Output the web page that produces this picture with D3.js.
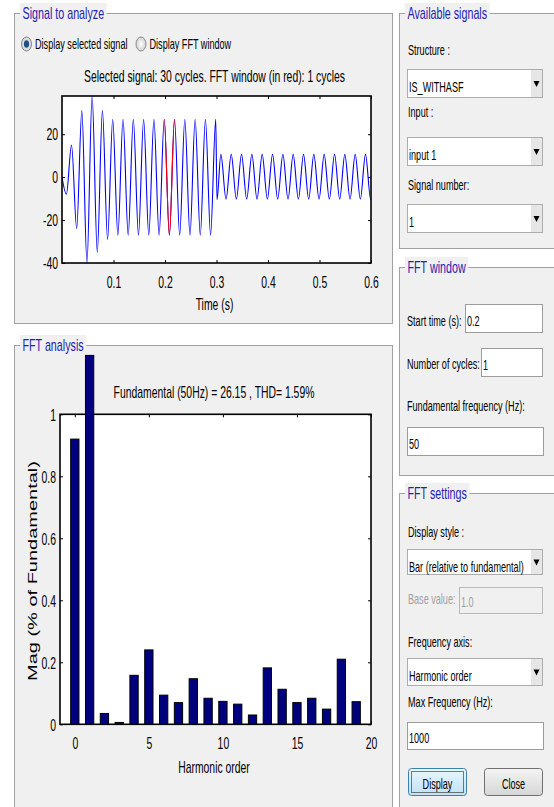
<!DOCTYPE html>
<html><head><meta charset="utf-8">
<script src="https://cdn.jsdelivr.net/npm/d3@7"></script>
<style>
body{margin:0;background:#fff;overflow:hidden}
text{font-family:"Liberation Sans",Arial,Helvetica,sans-serif}
</style>
</head><body>
<svg id="c" width="554" height="807"></svg>
<script>
// ---------------- DATA ----------------
// extrema of the analysed signal (time in s, value)
const waveTime = [0, 0.0085, 0.0185, 0.0285, 0.0385, 0.0485, 0.0585, 0.0685, 0.0785, 0.0885,
  0.0985, 0.1085, 0.1185, 0.1285, 0.1385, 0.1485, 0.1585, 0.1685, 0.1785, 0.1885,
  0.1985, 0.2085, 0.2185, 0.2285, 0.2385, 0.2485, 0.2585, 0.2685, 0.2785, 0.2885,
  0.2985, 0.3010,
  0.3085, 0.3185, 0.3286, 0.3386, 0.3486, 0.3586, 0.3687, 0.3787, 0.3887, 0.3988,
  0.4088, 0.4188, 0.4289, 0.4389, 0.4489, 0.4590, 0.4690, 0.4790, 0.4890, 0.4991,
  0.5091, 0.5191, 0.5292, 0.5392, 0.5492, 0.5593, 0.5693, 0.5793, 0.5893, 0.5993, 0.6000];
const waveValue = [0, -8, 15, -24, 31, -40, 37.8, -35, 31, -29,
  27, -27, 27, -27, 27, -27, 27, -27, 27, -27,
  27, -27, 27, -27, 27, -27, 27, -27, 27, -27,
  27, -10.5,
  10.6, -10.3, 10.6, -10.3, 10.6, -10.3, 10.6, -10.3, 10.6, -10.3,
  10.6, -10.3, 10.6, -10.3, 10.6, -10.3, 10.6, -10.3, 10.6, -10.3,
  10.6, -10.3, 10.6, -10.3, 10.6, -10.3, 10.6, -10.3, 10.6, -10.3, -10.2];
const signalCycles = 30;
const fftStartTime = 0.2;
const fftCycles = 1;
const fundamentalHz = 50;
const fundamentalMag = 26.15;
const thdPercent = 1.59;
const harmonicOrder = [0,1,2,3,4,5,6,7,8,9,10,11,12,13,14,15,16,17,18,19];
const harmonicMag = [0.92, 1.19, 0.035, 0.006, 0.158, 0.24, 0.094, 0.07, 0.147, 0.084,
  0.074, 0.065, 0.03, 0.182, 0.113, 0.07, 0.084, 0.049, 0.21, 0.073];
const timeTicks = [0.1, 0.2, 0.3, 0.4, 0.5, 0.6];
const signalTicks = [-40, -20, 0, 20];
const harmonicTicks = [0, 5, 10, 15, 20];
const magTicks = [0, 0.2, 0.4, 0.6, 0.8, 1];

// ---------------- DRAWING ----------------
const SX = 0.65;
const svg = d3.select('#c');
svg.append('rect').attr('width',554).attr('height',807).attr('fill','#fff');

function txt(g, x, y, s, o = {}) {
  const t = g.append('text')
    .attr('transform', `translate(${x},${y}) scale(${o.sx ?? SX},1)`)
    .attr('font-size', o.size ?? 14)
    .attr('fill', o.color ?? '#000')
    .attr('text-anchor', o.anchor ?? 'start')
    .text(s);
  return t;
}

function panel(x, y, w, h, title) {
  svg.append('rect').attr('x', x + 0.5).attr('y', y + 0.5).attr('width', w).attr('height', h)
    .attr('fill', '#f0f0f0').attr('stroke', '#a0a0a0');
  const bg = svg.append('rect').attr('fill', '#f0f0f0');
  const t = txt(svg, x + 8.5, y + 6, title, {size: 16, sx: 0.67, color: '#2323b0'});
  const bw = t.node().getBBox().width * 0.67;
  bg.attr('x', x + 6).attr('y', y - 10).attr('width', bw + 5).attr('height', 21);
}

function dropdown(x, y, w, h, label) {
  svg.append('rect').attr('x', x + 0.5).attr('y', y + 0.5).attr('width', w).attr('height', h)
    .attr('fill', '#fff').attr('stroke', '#acacac');
  svg.append('rect').attr('x', x + w - 11).attr('y', y + 1).attr('width', 11).attr('height', h - 1)
    .attr('fill', '#e6e6e6');
  const cx = x + w - 5.5, cy = y + h / 2 + 1;
  svg.append('path').attr('d', `M${cx - 3},${cy - 3}L${cx + 3},${cy - 3}L${cx},${cy + 3}Z`).attr('fill', '#000');
  txt(svg, x + 2, y + 23, label);
}

function inputBox(x, y, w, h, label, disabled) {
  svg.append('rect').attr('x', x + 0.5).attr('y', y + 0.5).attr('width', w).attr('height', h)
    .attr('fill', disabled ? '#f0f0f0' : '#fff').attr('stroke', disabled ? '#b8b8b8' : '#9c9c9c');
  txt(svg, x + 2, y + h - 6, label, {color: disabled ? '#a0a0a0' : '#000'});
}

// ---- panels ----
panel(14, 13, 378, 310, 'Signal to analyze');
panel(14, 345, 378, 480, 'FFT analysis');
panel(399, 13, 175, 235, 'Available signals');
panel(399, 267, 175, 208, 'FFT window');
panel(399, 493, 175, 330, 'FFT settings');

// ---- radio buttons ----
const defs = svg.append('defs');
const rg = defs.append('radialGradient').attr('id', 'rad');
rg.append('stop').attr('offset', '0%').attr('stop-color', '#ffffff');
rg.append('stop').attr('offset', '100%').attr('stop-color', '#d0d0d0');
[[26.5, true, 'Display selected signal'], [141, false, 'Display FFT window']].forEach(([cx, sel, lab]) => {
  svg.append('ellipse').attr('cx', cx).attr('cy', 44).attr('rx', 5).attr('ry', 7)
    .attr('fill', 'url(#rad)').attr('stroke', '#8a8a8a');
  if (sel) svg.append('ellipse').attr('cx', cx).attr('cy', 44).attr('rx', 2.6).attr('ry', 3.8).attr('fill', '#1b4f8a');
  txt(svg, cx + 8.5, 49, lab);
});

// ---- signal plot ----
const x1 = d3.scaleLinear().domain([0, 0.6]).range([62, 371]);
const y1 = d3.scaleLinear().domain([-40, 37.8]).range([263, 96]);
txt(svg, 214.5, 81.5,
  `Selected signal: ${signalCycles} cycles. FFT window (in red): ${fftCycles} cycles`,
  {size: 16, anchor: 'middle'});
svg.append('rect').attr('x', x1.range()[0]).attr('y', y1.range()[1])
  .attr('width', x1.range()[1] - x1.range()[0]).attr('height', y1.range()[0] - y1.range()[1]).attr('fill', '#fff');

const wave = waveTime.map((t, i) => ({t, v: waveValue[i]}));
const line1 = d3.line().x(d => x1(d.t)).y(d => y1(d.v)).curve(d3.curveMonotoneX);
defs.append('clipPath').attr('id', 'clipA').append('rect')
  .attr('x', 62).attr('y', 95).attr('width', 309).attr('height', 169);
const winEnd = fftStartTime + fftCycles / fundamentalHz;
defs.append('clipPath').attr('id', 'clipR').append('rect')
  .attr('x', x1(fftStartTime) - 0.8).attr('y', 90).attr('width', x1(winEnd) - x1(fftStartTime) + 0.4).attr('height', 180);
svg.append('path').datum(wave).attr('d', line1).attr('fill', 'none')
  .attr('stroke', '#0000ff').attr('stroke-width', 1.1).attr('clip-path', 'url(#clipA)');
svg.append('path').datum(wave).attr('d', line1).attr('fill', 'none')
  .attr('stroke', '#ff0000').attr('stroke-width', 1.1).attr('clip-path', 'url(#clipR)');

function styleAxis(g, kind) {
  g.attr('font-size', null).attr('font-family', null);
  g.select('.domain').remove();
  g.selectAll('line').attr('stroke', '#000');
  const t = g.selectAll('text').attr('font-size', 16).attr('fill', '#000');
  if (kind === 'b') t.attr('y', null).attr('dy', null).attr('transform', `translate(0,25) scale(${SX},1)`);
  if (kind === 'l') t.attr('x', null).attr('dy', '0.36em').attr('transform', `translate(-4,0) scale(${SX},1)`);
}
function axes(xs, ys, xt, yt, xfmt, yfmt) {
  const [l, r] = xs.range(), [b, tp] = ys.range();
  svg.append('g').attr('transform', `translate(0,${b})`)
    .call(d3.axisBottom(xs).tickValues(xt).tickSizeInner(-3).tickSizeOuter(0).tickFormat(xfmt)).call(g => styleAxis(g, 'b'));
  svg.append('g').attr('transform', `translate(0,${tp})`)
    .call(d3.axisTop(xs).tickValues(xt).tickSizeInner(-3).tickSizeOuter(0).tickFormat('')).call(g => styleAxis(g, 't'));
  svg.append('g').attr('transform', `translate(${l},0)`)
    .call(d3.axisLeft(ys).tickValues(yt).tickSizeInner(-3).tickSizeOuter(0).tickFormat(yfmt)).call(g => styleAxis(g, 'l'));
  svg.append('g').attr('transform', `translate(${r},0)`)
    .call(d3.axisRight(ys).tickValues(yt).tickSizeInner(-3).tickSizeOuter(0).tickFormat('')).call(g => styleAxis(g, 'r'));
  svg.append('rect').attr('x', l).attr('y', tp).attr('width', r - l).attr('height', b - tp)
    .attr('fill', 'none').attr('stroke', '#000').attr('stroke-width', 1.6);
}
axes(x1, y1, timeTicks, signalTicks, d => String(d), d => String(d));
txt(svg, 214.5, 310, 'Time (s)', {size: 16, anchor: 'middle'});

// ---- FFT plot ----
const x2 = d3.scaleLinear().domain([-1, 20]).range([60, 371]);
const y2 = d3.scaleLinear().domain([0, 1]).range([724.3, 414.3]);
svg.append('rect').attr('x', 60).attr('y', 414.3).attr('width', 311).attr('height', 310).attr('fill', '#fff');
txt(svg, 214, 398,
  `Fundamental (${fundamentalHz}Hz) = ${fundamentalMag} , THD= ${thdPercent}%`,
  {size: 16, anchor: 'middle'});
axes(x2, y2, harmonicTicks, magTicks, d => String(d), d => String(d));
const bw = 0.56;
svg.append('g').selectAll('rect').data(harmonicOrder).join('rect')
  .attr('x', d => x2(d - bw / 2)).attr('width', x2(bw) - x2(0))
  .attr('y', (d, i) => y2(harmonicMag[i])).attr('height', (d, i) => y2(0) - y2(harmonicMag[i]))
  .attr('fill', '#00007f').attr('stroke', '#000').attr('stroke-width', 1);
txt(svg, 214, 773, 'Harmonic order', {size: 16, anchor: 'middle'});
svg.append('text').attr('transform', 'translate(37,571) rotate(-90) scale(1,0.62)')
  .attr('font-size', 20).attr('text-anchor', 'middle').attr('fill', '#000')
  .text('Mag (% of Fundamental)');

// ---- right side controls ----
txt(svg, 408, 55, 'Structure :');
dropdown(407, 69, 135, 28, 'IS_WITHASF');
txt(svg, 408, 117, 'Input :');
dropdown(407, 137, 135, 28, 'input 1');
txt(svg, 408, 190, 'Signal number:');
dropdown(407, 204, 135, 28, '1');

txt(svg, 407, 326, 'Start time (s):');
inputBox(465, 304, 77, 28, String(fftStartTime));
txt(svg, 407, 369, 'Number of cycles:');
inputBox(481, 348, 61, 28, String(fftCycles));
txt(svg, 407, 411, 'Fundamental frequency (Hz):');
inputBox(407, 427, 136, 28, String(fundamentalHz));

txt(svg, 408, 537, 'Display style :');
dropdown(407, 549, 135, 25, 'Bar (relative to fundamental)');
txt(svg, 408, 604, 'Base value:', {color: '#a0a0a0'});
inputBox(459, 587, 83, 26, '1.0', true);
txt(svg, 408, 647, 'Frequency axis:');
dropdown(407, 658, 135, 27, 'Harmonic order');
txt(svg, 408, 707, 'Max Frequency (Hz):');
inputBox(407, 722, 136, 27, '1000');

const gb = defs.append('linearGradient').attr('id', 'gBlue').attr('x1', 0).attr('x2', 0).attr('y1', 0).attr('y2', 1);
gb.append('stop').attr('offset', '0%').attr('stop-color', '#eaf6fd');
gb.append('stop').attr('offset', '100%').attr('stop-color', '#bfe2f6');
const gg = defs.append('linearGradient').attr('id', 'gGray').attr('x1', 0).attr('x2', 0).attr('y1', 0).attr('y2', 1);
gg.append('stop').attr('offset', '0%').attr('stop-color', '#f4f4f4');
gg.append('stop').attr('offset', '100%').attr('stop-color', '#d6d6d6');
svg.append('rect').attr('x', 408.5).attr('y', 768.5).attr('width', 58).attr('height', 27).attr('rx', 3)
  .attr('fill', 'url(#gBlue)').attr('stroke', '#3c7fb1');
svg.append('rect').attr('x', 411.5).attr('y', 771.5).attr('width', 52).attr('height', 21)
  .attr('fill', 'none').attr('stroke', '#000').attr('stroke-dasharray', '1,1');
txt(svg, 437.5, 789, 'Display', {anchor: 'middle'});
svg.append('rect').attr('x', 484.5).attr('y', 768.5).attr('width', 58).attr('height', 27).attr('rx', 3)
  .attr('fill', 'url(#gGray)').attr('stroke', '#707070');
txt(svg, 513.5, 789, 'Close', {anchor: 'middle'});
</script>
</body></html>
